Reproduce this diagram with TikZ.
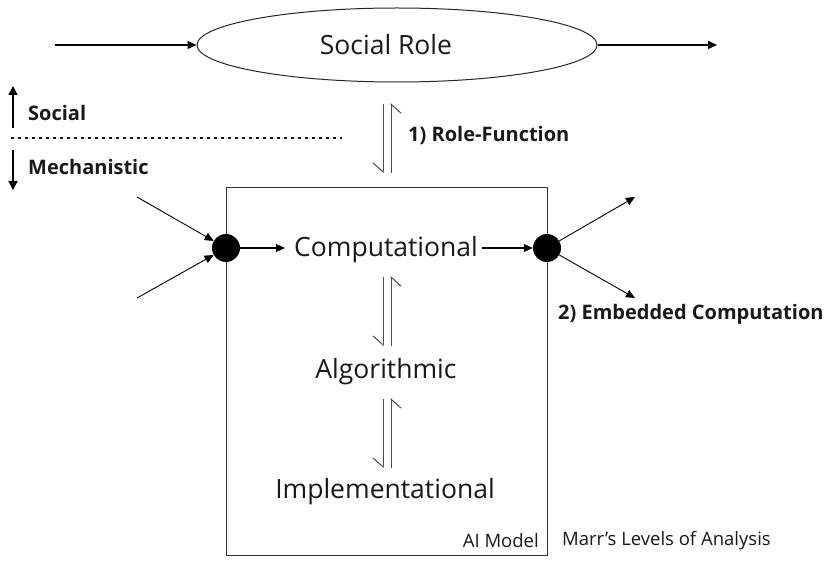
\documentclass[tikz,border=0pt]{standalone}
\usepackage{fontspec}
\setmainfont{Open Sans}
\usetikzlibrary{shapes.geometric,arrows.meta}
\begin{document}
\begin{tikzpicture}[x=1pt,y=-1pt,
  arr/.style={draw=black,line width=1.2pt,-{Triangle[length=9pt,width=8pt]}},
  varr/.style={draw=black,line width=1.6pt,-{Triangle[length=9pt,width=9pt]}},
  thinarr/.style={draw=black,line width=0.9pt,-{Triangle[length=9pt,width=8pt]}},
  harp/.style={draw=black!70,line width=1pt,-{Straight Barb[right,length=9pt,width=20pt]}},
  big/.style={font=\fontsize{26.5}{30}\selectfont,text=black!90,inner sep=0pt},
  lbl/.style={font=\fontsize{20}{24}\selectfont\bfseries,text=black!90,inner sep=0pt},
  small/.style={font=\fontsize{18.5}{22}\selectfont,text=black!90,inner sep=0pt},
  dot/.style={circle,fill=black,minimum size=28pt,inner sep=0pt}]
\useasboundingbox (0,0) rectangle (827,561);
% social role ellipse
\node[ellipse,draw=black!85,line width=1pt,minimum width=400pt,minimum height=74pt] (role) at (397,45) {};
\node[big] (roletxt) at (386,45) {Social Role};
\coordinate (inL) at (55,45);
\coordinate (outR) at (717,45);
\draw[arr] (inL) -- (role.west);
\draw[arr] (role.east) -- (outR);
% social / mechanistic
\coordinate (su1) at (13,128); \coordinate (su2) at (13,86);
\coordinate (md1) at (13,150); \coordinate (md2) at (13,190);
\draw[varr] (su1) -- (su2);
\draw[varr] (md1) -- (md2);
\node[lbl,anchor=west] (social) at (28,113) {Social};
\node[lbl,anchor=west] (mech) at (28,167) {Mechanistic};
\coordinate (dl1) at (11,138); \coordinate (dl2) at (342,138);
\draw[black!90,line width=1.3pt,dash pattern=on 3pt off 4pt] (dl1) -- (dl2);
% role-function harpoons
\coordinate (h1a) at (383,104); \coordinate (h1b) at (383,173);
\coordinate (h1c) at (391,173); \coordinate (h1d) at (391,103);
\draw[harp] (h1a) -- (h1b);
\draw[harp] (h1c) -- (h1d);
\node[lbl,anchor=west] (rf) at (408,135) {1) Role-Function};
% AI model box
\node[draw=black!80,line width=1pt,minimum width=321pt,minimum height=368pt,anchor=north west,inner sep=0pt] (box) at (226,187) {};
\node[small,anchor=east] (aim) at (539,541) {AI Model};
\node[small,anchor=west] (marr) at (562,541) {Marr’s Levels of Analysis};
% levels
\node[big] (comp) at (386,250) {Computational};
\node[big] (algo) at (386,372) {Algorithmic};
\node[big] (impl) at (385,492) {Implementational};
% dots
\node[dot] (ldot) at (226,248) {};
\node[dot] (rdot) at (547,248) {};
\coordinate (in1) at (137,197); \coordinate (in2) at (137,298);
\coordinate (out1) at (635,197); \coordinate (out2) at (635,298);
\draw[thinarr] (in1) -- (ldot);
\draw[thinarr] (in2) -- (ldot);
\draw[thinarr] (rdot) -- (out1);
\draw[thinarr] (rdot) -- (out2);
\draw[arr] (ldot) -- ([xshift=-9pt,yshift=2pt]comp.west);
\draw[arr] ([xshift=4pt,yshift=2pt]comp.east) -- (rdot);
\node[lbl,anchor=west] (ec) at (558,314) {2) Embedded Computation};
% harpoons between levels
\coordinate (h2a) at (383,277); \coordinate (h2b) at (383,346);
\coordinate (h2c) at (391,346); \coordinate (h2d) at (391,276);
\draw[harp] (h2a) -- (h2b);
\draw[harp] (h2c) -- (h2d);
\coordinate (h3a) at (383,399); \coordinate (h3b) at (383,468);
\coordinate (h3c) at (391,468); \coordinate (h3d) at (391,398);
\draw[harp] (h3a) -- (h3b);
\draw[harp] (h3c) -- (h3d);
\end{tikzpicture}
\end{document}
